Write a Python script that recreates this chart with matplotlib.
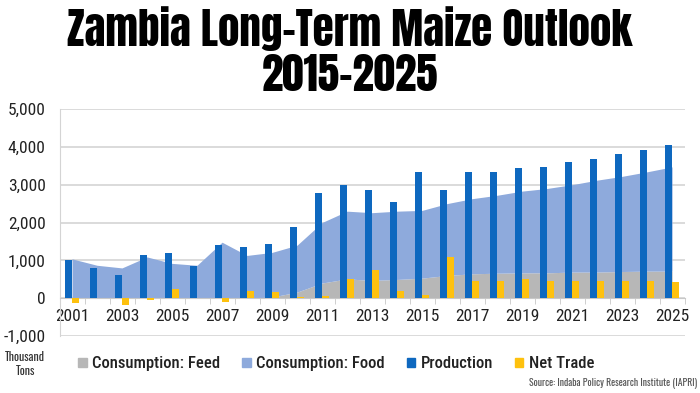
import matplotlib as mpl
mpl.use('Agg')
import matplotlib.pyplot as plt
import numpy as np
from matplotlib.patches import Patch
from matplotlib.ticker import FuncFormatter

years = list(range(2001, 2026))
production = [1020, 800, 600, 1140, 1190, 850, 1405, 1350, 1420, 1870, 2775, 3000,
              2860, 2545, 3330, 2850, 3330, 3330, 3430, 3480, 3590, 3690, 3800, 3910, 4040]
net_trade = [-120, 0, -190, -50, 250, 0, -110, 180, 160, 20, 50, 500,
             740, 190, 90, 1100, 460, 460, 495, 460, 460, 460, 460, 460, 425]
feed = [0, 0, 0, 0, 0, 0, 0, 0, 30, 160, 400, 510,
        470, 495, 530, 600, 645, 660, 670, 670, 690, 690, 705, 715, 715]
total_consumption = [1040, 870, 800, 1090, 920, 870, 1480, 1130, 1210, 1400, 2000, 2300,
                     2260, 2300, 2320, 2500, 2630, 2720, 2830, 2900, 3000, 3120, 3220, 3340, 3470]

c_feed = '#b7b7b7'
c_food = '#8eaadc'
c_prod = '#0e68bf'
c_trade = '#fec10e'

body = ['Roboto Condensed', 'Lato', 'DejaVu Sans']
narrow = ['Oswald', 'DejaVu Sans']
heavy = ['Anton', 'Oswald', 'DejaVu Sans']
plt.rcParams['font.family'] = body

fig = plt.figure(figsize=(7, 3.93), dpi=100)
ax = fig.add_axes([0.085, 0.145, 0.893, 0.5776])

x = np.arange(len(years))
ax.fill_between(x, 0, feed, color=c_feed, lw=0, zorder=1)
ax.fill_between(x, feed, total_consumption, color=c_food, lw=0, zorder=1)
ax.bar(x - 0.14, production, width=0.28, color=c_prod, zorder=3)
ax.bar(x + 0.14, net_trade, width=0.28, color=c_trade, zorder=3)

ax.set_xlim(-0.5, len(years) - 0.5)
ax.set_ylim(-1000, 5000)
ax.set_yticks(range(-1000, 5001, 1000))
ax.yaxis.set_major_formatter(FuncFormatter(lambda v, p: f'{int(v):,}'))
ax.yaxis.grid(True, color='#d4d4d4', lw=1.2)
ax.set_axisbelow(True)
ax.tick_params(axis='y', length=0, labelsize=12.5, pad=10, labelcolor='#222222')

ax.spines['top'].set_visible(False)
ax.spines['right'].set_visible(False)
ax.spines['left'].set_color('#d4d4d4')
ax.spines['bottom'].set_position(('data', 0))
ax.spines['bottom'].set_color('#c8c8c8')
ax.set_xticks(x[::2])
ax.set_xticklabels([str(y) for y in years[::2]])
ax.set_xticks(np.arange(-0.5, len(years), 1), minor=True)
ax.tick_params(axis='x', which='major', length=0, labelsize=12.5, pad=8, labelcolor='#222222')
ax.tick_params(axis='x', which='minor', length=4, color='#c8c8c8')

fig.text(0.5, 0.985, 'Zambia Long-Term Maize Outlook\n2015\u20132025', ha='center', va='top',
         fontsize=31, family=heavy, linespacing=1.1)

handles = [Patch(color=c_feed), Patch(color=c_food), Patch(color=c_prod), Patch(color=c_trade)]
labels = ['Consumption: Feed', 'Consumption: Food', 'Production', 'Net Trade']
fig.legend(handles, labels, loc='center left', bbox_to_anchor=(0.107, 0.074), ncol=4,
           frameon=False, prop={'size': 12, 'weight': 'medium'}, handlelength=0.5,
           handleheight=0.5, handletextpad=0.35, columnspacing=1.3, labelcolor='#222222',
           borderpad=0.2, borderaxespad=0)

fig.text(0.036, 0.075, 'Thousand\nTons', ha='center', va='center', fontsize=8.5,
         family=narrow, fontweight='light', color='#333333', linespacing=1.2)
fig.text(0.996, 0.027, 'Source: Indaba Policy Research Institute (IAPRI)', ha='right', va='center',
         fontsize=7, family=narrow, fontweight='light', color='#555555')

plt.savefig('out.png', dpi=100)
